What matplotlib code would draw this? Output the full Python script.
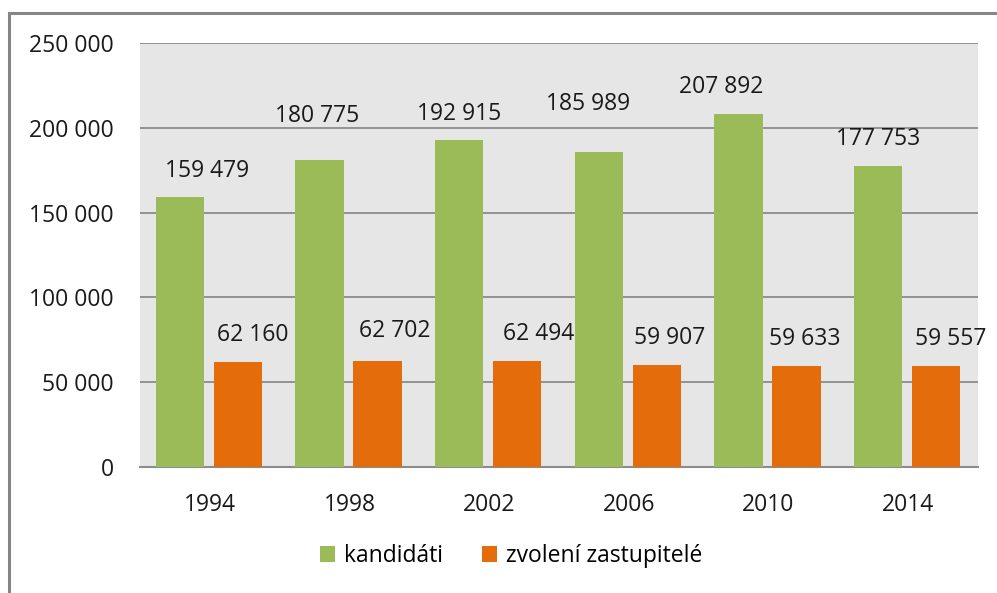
import matplotlib.pyplot as plt
import matplotlib.patches as patches
import numpy as np

plt.rcParams['font.family'] = ['Open Sans', 'DejaVu Sans']

# data
roky = ['1994', '1998', '2002', '2006', '2010', '2014']
kandidati = [159479, 180775, 192915, 185989, 207892, 177753]
zvoleni = [62160, 62702, 62494, 59907, 59633, 59557]

# posuny popisku (px), v originale jsou rucne posunute
posun_k = [(27, 26), (-2, 44), (0, 26), (-11, 48), (-17, 27), (0, 27)]
posun_z = [(15, 27), (17, 30), (22, 27), (13, 27), (8, 27), (15, 27)]

def fmt(v):
    return f"{v:,}".replace(",", " ")

fig = plt.figure(figsize=(9.97, 5.93), dpi=100)
ax = fig.add_axes([140/997, 1-467/593, (978-140)/997, (467-43)/593])
ax.set_facecolor('#E6E6E6')

x = np.arange(len(roky))
w = 0.345
b1 = ax.bar(x - 0.215, kandidati, w, color='#9BBB59', label='kandidáti', zorder=3)
b2 = ax.bar(x + 0.2, zvoleni, w, color='#E46C0A', label='zvolení zastupitelé', zorder=3)

for rect, v, (dx, dy) in zip(b1, kandidati, posun_k):
    ax.annotate(fmt(v), (rect.get_x() + rect.get_width()/2, v), xytext=(dx, dy),
                textcoords='offset pixels', ha='center', va='center', fontsize=16.5, color='#1A1A1A', zorder=4)
for rect, v, (dx, dy) in zip(b2, zvoleni, posun_z):
    ax.annotate(fmt(v), (rect.get_x() + rect.get_width()/2, v), xytext=(dx, dy),
                textcoords='offset pixels', ha='center', va='center', fontsize=16.5, color='#1A1A1A', zorder=4)

ax.set_xlim(-0.5, 5.5)
ax.set_ylim(0, 250000)
ax.set_yticks(range(0, 250001, 50000))
ax.set_yticklabels([fmt(t) for t in range(0, 250001, 50000)])
ax.set_xticks(x)
ax.set_xticklabels(roky)
ax.tick_params(axis='both', length=0, labelsize=16.5, colors='#1A1A1A')
ax.tick_params(axis='y', pad=19)
ax.tick_params(axis='x', pad=19)
ax.grid(axis='y', color='#8C8C8C', linewidth=1.3, zorder=0)
for s in ['left', 'right', 'top']:
    ax.spines[s].set_visible(False)
ax.spines['bottom'].set_color('#8C8C8C')
ax.spines['bottom'].set_linewidth(1.5)

fig.legend(loc='center', bbox_to_anchor=(0.513, 1-556/593), ncol=2, frameon=False,
           fontsize=16.5, handlelength=0.65, handleheight=0.65, handletextpad=0.4,
           columnspacing=1.7)

# ramecek kolem grafu
fig.patches.append(patches.Rectangle((9/997, -0.1), 1.2, (593-13)/593 + 0.1, transform=fig.transFigure,
                                     fill=False, edgecolor='#868686', linewidth=2.2))

fig.savefig('out.png', dpi=100)
